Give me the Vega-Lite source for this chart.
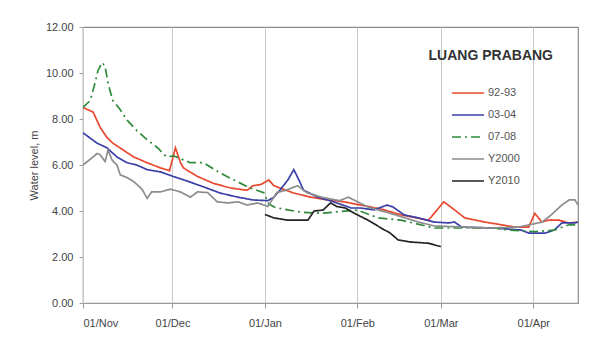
{
  "$schema": "https://vega.github.io/schema/vega-lite/v6.json",
  "width": 495,
  "height": 276,
  "autosize": "none",
  "padding": {"left": 83, "top": 27, "right": 35, "bottom": 35},
  "background": "white",
  "title": {
    "text": "LUANG PRABANG",
    "orient": "top",
    "anchor": "end",
    "frame": "group",
    "font": "Liberation Sans",
    "fontSize": 14,
    "fontWeight": "bold",
    "color": "#333333",
    "offset": 0,
    "dx": -25,
    "dy": 42
  },
  "config": {
    "font": "Liberation Sans",
    "view": {"stroke": "#8a8a8a", "strokeWidth": 1.2}
  },
  "data": {
    "values": [
      {"series": "92-93", "day": 0, "level": 8.5},
      {"series": "92-93", "day": 3.4, "level": 8.3},
      {"series": "92-93", "day": 5.7, "level": 7.65},
      {"series": "92-93", "day": 8, "level": 7.2},
      {"series": "92-93", "day": 10, "level": 6.95},
      {"series": "92-93", "day": 13.5, "level": 6.65},
      {"series": "92-93", "day": 17, "level": 6.35},
      {"series": "92-93", "day": 21.5, "level": 6.1},
      {"series": "92-93", "day": 26, "level": 5.87},
      {"series": "92-93", "day": 28, "level": 5.8},
      {"series": "92-93", "day": 29, "level": 5.75},
      {"series": "92-93", "day": 31, "level": 6.75},
      {"series": "92-93", "day": 32.7, "level": 6.1},
      {"series": "92-93", "day": 33.7, "level": 5.87},
      {"series": "92-93", "day": 38.4, "level": 5.5},
      {"series": "92-93", "day": 43.8, "level": 5.2},
      {"series": "92-93", "day": 49.5, "level": 5.0},
      {"series": "92-93", "day": 55, "level": 4.9},
      {"series": "92-93", "day": 57, "level": 5.1},
      {"series": "92-93", "day": 59.6, "level": 5.15},
      {"series": "92-93", "day": 62.3, "level": 5.35},
      {"series": "92-93", "day": 64, "level": 5.1},
      {"series": "92-93", "day": 66, "level": 5.0},
      {"series": "92-93", "day": 70.7, "level": 4.78},
      {"series": "92-93", "day": 76.4, "level": 4.6},
      {"series": "92-93", "day": 82, "level": 4.48},
      {"series": "92-93", "day": 87.5, "level": 4.4},
      {"series": "92-93", "day": 93, "level": 4.26},
      {"series": "92-93", "day": 95.6, "level": 4.2},
      {"series": "92-93", "day": 101, "level": 4.05},
      {"series": "92-93", "day": 106.7, "level": 3.83},
      {"series": "92-93", "day": 115.8, "level": 3.6},
      {"series": "92-93", "day": 117.8, "level": 3.9},
      {"series": "92-93", "day": 121, "level": 4.4},
      {"series": "92-93", "day": 124.6, "level": 4.05},
      {"series": "92-93", "day": 128, "level": 3.7},
      {"series": "92-93", "day": 134.7, "level": 3.52},
      {"series": "92-93", "day": 140.4, "level": 3.4},
      {"series": "92-93", "day": 144.8, "level": 3.3},
      {"series": "92-93", "day": 149.5, "level": 3.3},
      {"series": "92-93", "day": 151.5, "level": 3.9},
      {"series": "92-93", "day": 153.9, "level": 3.52},
      {"series": "92-93", "day": 156, "level": 3.6},
      {"series": "92-93", "day": 159.6, "level": 3.6},
      {"series": "92-93", "day": 163, "level": 3.48},
      {"series": "92-93", "day": 166, "level": 3.52},

      {"series": "03-04", "day": 0, "level": 7.4},
      {"series": "03-04", "day": 4.7, "level": 6.95},
      {"series": "03-04", "day": 8, "level": 6.75},
      {"series": "03-04", "day": 11.4, "level": 6.35},
      {"series": "03-04", "day": 14.8, "level": 6.1},
      {"series": "03-04", "day": 18, "level": 6.0},
      {"series": "03-04", "day": 21.5, "level": 5.8},
      {"series": "03-04", "day": 26, "level": 5.7},
      {"series": "03-04", "day": 30.3, "level": 5.5},
      {"series": "03-04", "day": 35, "level": 5.3},
      {"series": "03-04", "day": 40.4, "level": 5.05},
      {"series": "03-04", "day": 46, "level": 4.78},
      {"series": "03-04", "day": 52, "level": 4.6},
      {"series": "03-04", "day": 57, "level": 4.48},
      {"series": "03-04", "day": 62, "level": 4.45},
      {"series": "03-04", "day": 64, "level": 4.6},
      {"series": "03-04", "day": 66, "level": 4.9},
      {"series": "03-04", "day": 68.7, "level": 5.35},
      {"series": "03-04", "day": 70.7, "level": 5.8},
      {"series": "03-04", "day": 72.4, "level": 5.35},
      {"series": "03-04", "day": 74, "level": 4.9},
      {"series": "03-04", "day": 78.8, "level": 4.6},
      {"series": "03-04", "day": 84, "level": 4.4},
      {"series": "03-04", "day": 90, "level": 4.13},
      {"series": "03-04", "day": 93, "level": 4.13},
      {"series": "03-04", "day": 97.6, "level": 4.05},
      {"series": "03-04", "day": 102, "level": 4.26},
      {"series": "03-04", "day": 104, "level": 4.17},
      {"series": "03-04", "day": 107.7, "level": 3.83},
      {"series": "03-04", "day": 112.5, "level": 3.7},
      {"series": "03-04", "day": 117.8, "level": 3.52},
      {"series": "03-04", "day": 122.6, "level": 3.48},
      {"series": "03-04", "day": 124.6, "level": 3.52},
      {"series": "03-04", "day": 127, "level": 3.3},
      {"series": "03-04", "day": 138, "level": 3.26},
      {"series": "03-04", "day": 147, "level": 3.17},
      {"series": "03-04", "day": 149.5, "level": 3.04},
      {"series": "03-04", "day": 155, "level": 3.04},
      {"series": "03-04", "day": 158, "level": 3.17},
      {"series": "03-04", "day": 160.6, "level": 3.48},
      {"series": "03-04", "day": 165, "level": 3.48},
      {"series": "03-04", "day": 166, "level": 3.52},

      {"series": "07-08", "day": 0, "level": 8.5},
      {"series": "07-08", "day": 2.4, "level": 8.8},
      {"series": "07-08", "day": 4, "level": 9.55},
      {"series": "07-08", "day": 5, "level": 10.1},
      {"series": "07-08", "day": 6.4, "level": 10.45},
      {"series": "07-08", "day": 7.4, "level": 10.3},
      {"series": "07-08", "day": 8.4, "level": 9.55},
      {"series": "07-08", "day": 10, "level": 8.8},
      {"series": "07-08", "day": 12.5, "level": 8.4},
      {"series": "07-08", "day": 14.8, "level": 7.95},
      {"series": "07-08", "day": 18, "level": 7.5},
      {"series": "07-08", "day": 21.5, "level": 7.1},
      {"series": "07-08", "day": 25, "level": 6.75},
      {"series": "07-08", "day": 28, "level": 6.35},
      {"series": "07-08", "day": 30.3, "level": 6.4},
      {"series": "07-08", "day": 36, "level": 6.1},
      {"series": "07-08", "day": 40.4, "level": 6.1},
      {"series": "07-08", "day": 46, "level": 5.65},
      {"series": "07-08", "day": 52, "level": 5.26},
      {"series": "07-08", "day": 56, "level": 5.0},
      {"series": "07-08", "day": 60.6, "level": 4.8},
      {"series": "07-08", "day": 62.3, "level": 4.3},
      {"series": "07-08", "day": 64.6, "level": 4.15},
      {"series": "07-08", "day": 68.7, "level": 4.05},
      {"series": "07-08", "day": 73, "level": 3.95},
      {"series": "07-08", "day": 79.8, "level": 3.9},
      {"series": "07-08", "day": 84, "level": 3.95},
      {"series": "07-08", "day": 92, "level": 4.04},
      {"series": "07-08", "day": 99, "level": 3.7},
      {"series": "07-08", "day": 106.7, "level": 3.6},
      {"series": "07-08", "day": 117.8, "level": 3.26},
      {"series": "07-08", "day": 127, "level": 3.26},
      {"series": "07-08", "day": 138, "level": 3.26},
      {"series": "07-08", "day": 142.8, "level": 3.17},
      {"series": "07-08", "day": 151.5, "level": 3.1},
      {"series": "07-08", "day": 158, "level": 3.17},
      {"series": "07-08", "day": 163, "level": 3.4},
      {"series": "07-08", "day": 166, "level": 3.4},

      {"series": "Y2000", "day": 0, "level": 6.0},
      {"series": "Y2000", "day": 3.4, "level": 6.35},
      {"series": "Y2000", "day": 4.7, "level": 6.5},
      {"series": "Y2000", "day": 5.7, "level": 6.45},
      {"series": "Y2000", "day": 7.4, "level": 6.15},
      {"series": "Y2000", "day": 8.4, "level": 6.65},
      {"series": "Y2000", "day": 9.8, "level": 6.2},
      {"series": "Y2000", "day": 11.4, "level": 6.0},
      {"series": "Y2000", "day": 12.5, "level": 5.57},
      {"series": "Y2000", "day": 14.8, "level": 5.45},
      {"series": "Y2000", "day": 16.8, "level": 5.3},
      {"series": "Y2000", "day": 19, "level": 5.05},
      {"series": "Y2000", "day": 20, "level": 4.9},
      {"series": "Y2000", "day": 21.5, "level": 4.55},
      {"series": "Y2000", "day": 23, "level": 4.83},
      {"series": "Y2000", "day": 26, "level": 4.83},
      {"series": "Y2000", "day": 29.3, "level": 4.95},
      {"series": "Y2000", "day": 32.7, "level": 4.83},
      {"series": "Y2000", "day": 36, "level": 4.6},
      {"series": "Y2000", "day": 38.4, "level": 4.83},
      {"series": "Y2000", "day": 41.8, "level": 4.8},
      {"series": "Y2000", "day": 45, "level": 4.4},
      {"series": "Y2000", "day": 48.5, "level": 4.35},
      {"series": "Y2000", "day": 52, "level": 4.4},
      {"series": "Y2000", "day": 55, "level": 4.26},
      {"series": "Y2000", "day": 58.6, "level": 4.35},
      {"series": "Y2000", "day": 62, "level": 4.2},
      {"series": "Y2000", "day": 65, "level": 4.8},
      {"series": "Y2000", "day": 68, "level": 4.9},
      {"series": "Y2000", "day": 72, "level": 5.1},
      {"series": "Y2000", "day": 75, "level": 4.8},
      {"series": "Y2000", "day": 80, "level": 4.6},
      {"series": "Y2000", "day": 86, "level": 4.45},
      {"series": "Y2000", "day": 89, "level": 4.6},
      {"series": "Y2000", "day": 95.6, "level": 4.17},
      {"series": "Y2000", "day": 103, "level": 3.9},
      {"series": "Y2000", "day": 112.5, "level": 3.52},
      {"series": "Y2000", "day": 117.8, "level": 3.35},
      {"series": "Y2000", "day": 136, "level": 3.26},
      {"series": "Y2000", "day": 146, "level": 3.3},
      {"series": "Y2000", "day": 154, "level": 3.52},
      {"series": "Y2000", "day": 157, "level": 3.83},
      {"series": "Y2000", "day": 160.6, "level": 4.26},
      {"series": "Y2000", "day": 163, "level": 4.48},
      {"series": "Y2000", "day": 165, "level": 4.48},
      {"series": "Y2000", "day": 166, "level": 4.26},

      {"series": "Y2010", "day": 61, "level": 3.85},
      {"series": "Y2010", "day": 64, "level": 3.7},
      {"series": "Y2010", "day": 68.7, "level": 3.6},
      {"series": "Y2010", "day": 75.4, "level": 3.6},
      {"series": "Y2010", "day": 77.5, "level": 4.0},
      {"series": "Y2010", "day": 80.5, "level": 4.04},
      {"series": "Y2010", "day": 83, "level": 4.35},
      {"series": "Y2010", "day": 85, "level": 4.2},
      {"series": "Y2010", "day": 88, "level": 4.13},
      {"series": "Y2010", "day": 91, "level": 3.9},
      {"series": "Y2010", "day": 95.6, "level": 3.6},
      {"series": "Y2010", "day": 100, "level": 3.26},
      {"series": "Y2010", "day": 103, "level": 3.04},
      {"series": "Y2010", "day": 105.7, "level": 2.74},
      {"series": "Y2010", "day": 110, "level": 2.65},
      {"series": "Y2010", "day": 115.8, "level": 2.6},
      {"series": "Y2010", "day": 120, "level": 2.45}
    ]
  },
  "mark": {"type": "line", "clip": true},
  "encoding": {
    "x": {
      "field": "day",
      "type": "quantitative",
      "scale": {"domain": [0, 166], "nice": false, "zero": false},
      "axis": {
        "title": null,
        "values": [0, 30, 61, 92, 120, 151],
        "labelExpr": "datum.value == 0 ? '01/Nov' : datum.value == 30 ? '01/Dec' : datum.value == 61 ? '01/Jan' : datum.value == 92 ? '01/Feb' : datum.value == 120 ? '01/Mar' : '01/Apr'",
        "grid": true,
        "gridColor": "#c8c8c8",
        "gridWidth": 1,
        "domainColor": "#9a9a9a",
        "tickColor": "#9a9a9a",
        "tickSize": 5,
        "labelPadding": 9,
        "labelFontSize": 11,
        "labelColor": "#444444",
        "labelFont": "Liberation Sans"
      }
    },
    "y": {
      "field": "level",
      "type": "quantitative",
      "scale": {"domain": [0, 12], "nice": false},
      "axis": {
        "title": "Water level, m",
        "values": [0, 2, 4, 6, 8, 10, 12],
        "format": ".2f",
        "grid": false,
        "domainColor": "#c8c8c8",
        "tickColor": "#9a9a9a",
        "tickSize": 4,
        "labelPadding": 6,
        "labelFontSize": 11,
        "labelColor": "#444444",
        "titleFontSize": 11,
        "titleFontWeight": "normal",
        "titleColor": "#444444",
        "titlePadding": 6
      }
    },
    "color": {
      "field": "series",
      "type": "nominal",
      "scale": {
        "domain": ["92-93", "03-04", "07-08", "Y2000", "Y2010"],
        "range": ["#e8482e", "#3a40a8", "#2f8a3c", "#8c8c8c", "#222222"]
      },
      "legend": {
        "title": null,
        "orient": "none",
        "legendX": 368,
        "legendY": 49,
        "symbolType": "stroke",
        "symbolSize": 1024,
        "symbolStrokeWidth": 1.8,
        "labelFontSize": 11,
        "labelColor": "#555555",
        "labelOffset": 3,
        "rowPadding": 0
      }
    },
    "strokeDash": {
      "field": "series",
      "type": "nominal",
      "scale": {
        "domain": ["92-93", "03-04", "07-08", "Y2000", "Y2010"],
        "range": [[1, 0], [1, 0], [9, 4, 2, 4], [1, 0], [1, 0]]
      },
      "legend": {
        "title": null,
        "orient": "none",
        "legendX": 368,
        "legendY": 49,
        "symbolType": "stroke",
        "symbolSize": 1024,
        "labelFontSize": 11,
        "labelColor": "#555555",
        "labelOffset": 3,
        "rowPadding": 0
      }
    },
    "strokeWidth": {
      "field": "series",
      "type": "nominal",
      "scale": {
        "domain": ["92-93", "03-04", "07-08", "Y2000", "Y2010"],
        "range": [1.7, 1.7, 2, 1.7, 2.8]
      },
      "legend": {
        "title": null,
        "orient": "none",
        "legendX": 368,
        "legendY": 49,
        "symbolType": "stroke",
        "symbolSize": 1024,
        "labelFontSize": 11,
        "labelColor": "#555555",
        "labelOffset": 3,
        "rowPadding": 0
      }
    }
  }
}
